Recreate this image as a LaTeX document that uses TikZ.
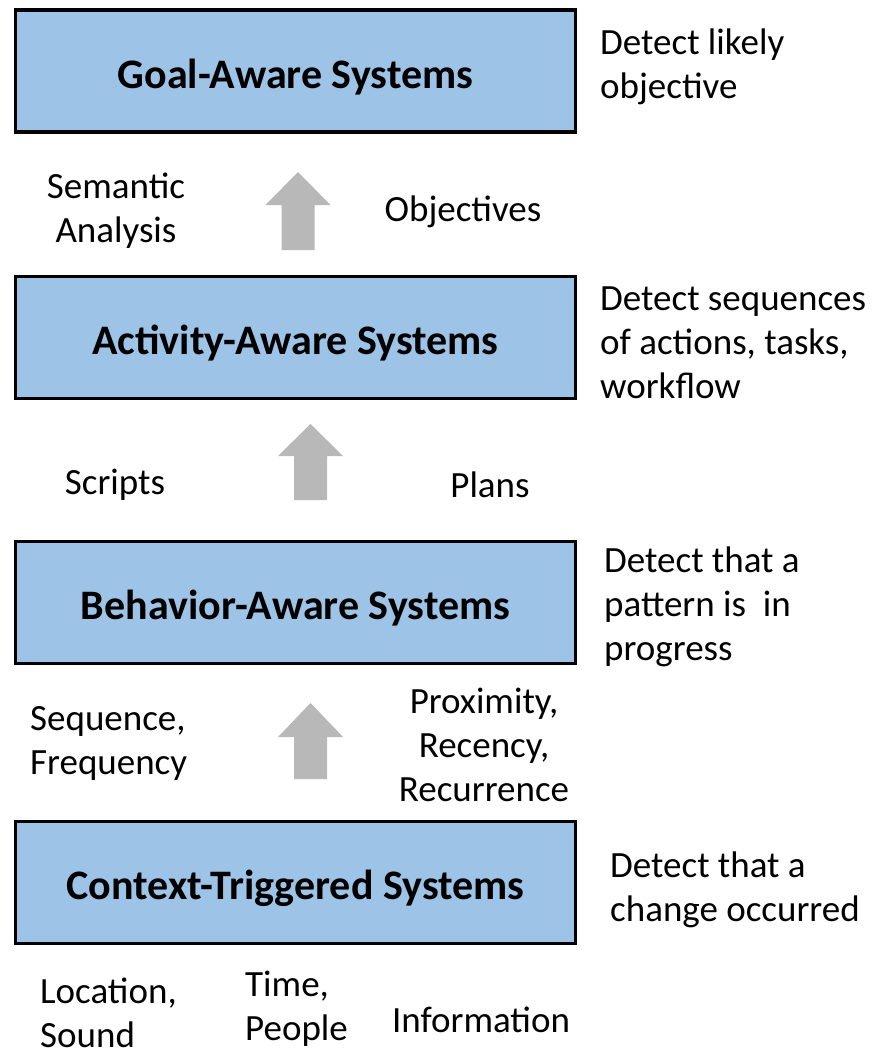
\documentclass[tikz,border=0pt]{standalone}
\usepackage{fontspec}
\setmainfont{Carlito}
\begin{document}
\begin{tikzpicture}[x=1pt,y=-1pt,
  sysbox/.style={draw=black, line width=3.8pt, fill=boxblue, minimum width=560pt, minimum height=122pt, inner sep=0pt, text height=40pt, text depth=6pt, font=\fontsize{42}{50}\selectfont\bfseries},
  lbl/.style={inner sep=0pt, font=\fontsize{37}{44}\selectfont},
  uparrowshape/.style={fill=arrowgray, draw=none}]
\definecolor{boxblue}{HTML}{9DC3E6}
\definecolor{arrowgray}{HTML}{B8B8B8}
\useasboundingbox (0,0) rectangle (887,1055);
\fill[white] (0,0) rectangle (887,1055);

% boxes
\node[sysbox] (goal) at (295.5,71) {Goal-Aware Systems};
\node[sysbox] (act) at (295.5,337.5) {Activity-Aware Systems};
\node[sysbox] (beh) at (295.5,602.5) {Behavior-Aware Systems};
\node[sysbox] (ctx) at (295.5,882.5) {Context-Triggered Systems};

% block arrows
\fill[uparrowshape] (298,172) -- (330.5,205) -- (314.5,205) -- (314.5,250) -- (281.5,250) -- (281.5,205) -- (265.5,205) -- cycle;
\fill[uparrowshape] (310.5,424) -- (343,456) -- (327,456) -- (327,500) -- (294,500) -- (294,456) -- (278,456) -- cycle;
\fill[uparrowshape] (310.5,703) -- (343,737) -- (327,737) -- (327,779) -- (294,779) -- (294,737) -- (278,737) -- cycle;

% right descriptions
\node[lbl, anchor=west, align=left] (d1) at (600,67) {Detect likely\\objective};
\node[lbl, anchor=west, align=left] (d2) at (600,343) {Detect sequences\\of actions, tasks,\\workflow};
\node[lbl, anchor=west, align=left] (d3) at (604,607) {Detect that a\\pattern is\ \ in\\progress};
\node[lbl, anchor=west, align=left] (d4) at (610,890) {Detect that a\\change occurred};

% side labels
\node[lbl, align=center] (sa) at (116,211) {Semantic\\Analysis};
\node[lbl] (obj) at (463,212) {Objectives};
\node[lbl] (scr) at (115,485) {Scripts};
\node[lbl] (pln) at (490,485) {Plans};
\node[lbl, anchor=west, align=left] (seq) at (30,743) {Sequence,\\Frequency};
\node[lbl, align=center] (prox) at (484,745) {Proximity,\\Recency,\\Recurrence};
\node[lbl, anchor=west, align=left] (loc) at (40,1013) {Location,\\Sound};
\node[lbl, anchor=west, align=left] (tim) at (245,1009) {Time,\\People};
\node[lbl] (inf) at (481,1020) {Information};
\end{tikzpicture}
\end{document}
